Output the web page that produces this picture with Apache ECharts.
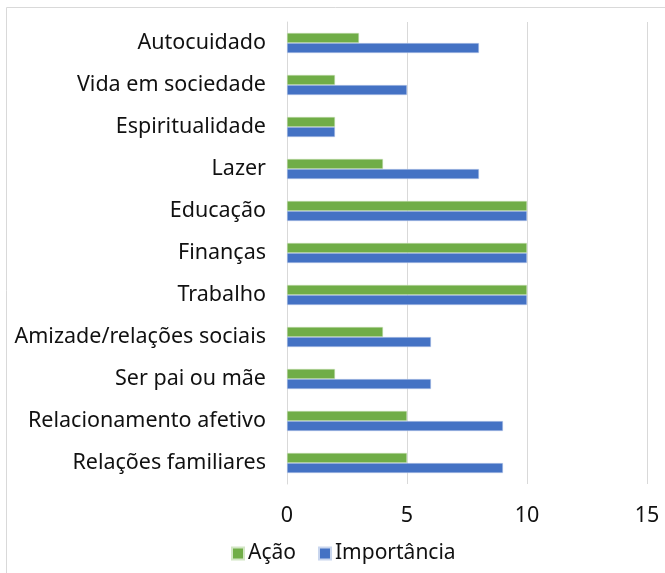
<!DOCTYPE html>
<html>
<head>
<meta charset="utf-8">
<script src="https://cdn.jsdelivr.net/npm/echarts@6/dist/echarts.min.js"></script>
<style>html,body{margin:0;padding:0;background:#fff;}#c{width:665px;height:573px;}</style>
</head>
<body>
<div id="c"></div>
<script>
const categories = ['Relações familiares','Relacionamento afetivo','Ser pai ou mãe','Amizade/relações sociais','Trabalho','Finanças','Educação','Lazer','Espiritualidade','Vida em sociedade','Autocuidado'];
const acao = [5,5,2,4,10,10,10,4,2,2,3];
const importancia = [9,9,6,6,10,10,10,8,2,5,8];
const xTicks = [0,5,10,15];

const chart = echarts.init(document.getElementById('c'));
const font = "'Noto Sans', 'Open Sans', sans-serif";
chart.setOption({
  animation: false,
  textStyle: {fontFamily: font},
  graphic: [
    {type:'line', shape:{x1:6.5,y1:7.5,x2:665,y2:7.5}, style:{stroke:'#d9d9d9',lineWidth:1}},
    {type:'line', shape:{x1:6.5,y1:7.5,x2:6.5,y2:573}, style:{stroke:'#d9d9d9',lineWidth:1}}
  ],
  legend: {
    data: ['Ação','Importância'],
    top: 538, left: 226,
    itemWidth: 12, itemHeight: 12, itemGap: 22,
    icon: 'rect',
    textStyle: {fontSize: 21, color: '#111', fontFamily: font, padding: [0,0,0,-1]}
  },
  grid: {left: 287, right: 18, top: 22, bottom: 89, containLabel: false},
  xAxis: {
    type: 'value', min: xTicks[0], max: xTicks[xTicks.length-1], interval: 5,
    axisLine: {show: false}, axisTick: {show: false},
    splitLine: {show: true, lineStyle: {color: '#d9d9d9', width: 1}},
    axisLabel: {fontSize: 21.5, color: '#111', margin: 21, fontFamily: font}
  },
  yAxis: {
    type: 'category', data: categories,
    axisLine: {show: true, lineStyle: {color: '#d9d9d9'}},
    axisTick: {show: false},
    axisLabel: {fontSize: 21.5, color: '#111', margin: 21, fontFamily: font}
  },
  series: [
    {name: 'Ação', type: 'bar', data: acao, barGap: '0%', barCategoryGap: '52%',
     itemStyle: {color: '#70AD47', borderColor: '#d2e6c4', borderWidth: 0.5}},
    {name: 'Importância', type: 'bar', data: importancia, barGap: '0%', barCategoryGap: '52%',
     itemStyle: {color: '#4472C4', borderColor: '#c9d6ee', borderWidth: 0.5}}
  ]
});
</script>
</body>
</html>
